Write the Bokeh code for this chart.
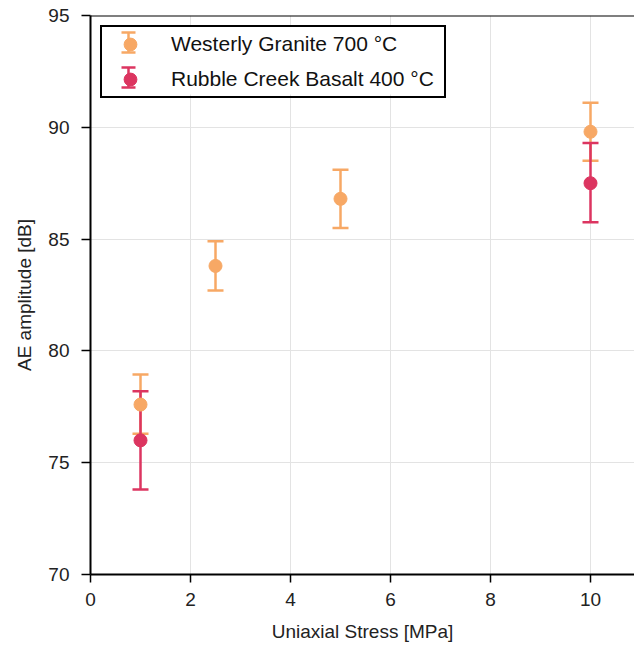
from bokeh.plotting import figure
from bokeh.models import (ColumnDataSource, Legend, LegendItem, Span, FixedTicker, Range1d,
                          BoxAnnotation)
from bokeh.embed import file_html
from bokeh.resources import INLINE

# ---- data ----
granite_x = [1, 2.5, 5, 10]
granite_y = [77.6, 83.8, 86.8, 89.8]
granite_lo = [76.3, 82.7, 85.5, 88.5]
granite_hi = [78.95, 84.9, 88.1, 91.1]

basalt_x = [1, 10]
basalt_y = [76.0, 87.5]
basalt_lo = [73.8, 85.75]
basalt_hi = [78.2, 89.3]

x_ticks = [0, 2, 4, 6, 8, 10]
y_ticks = [70, 75, 80, 85, 90, 95]

granite_label = "Westerly Granite 700 °C"
basalt_label = "Rubble Creek Basalt 400 °C"

GRANITE = "#f7a865"
BASALT = "#dc3560"
FONT = "Liberation Sans"

W, H = 634, 646
FRAME_LEFT, FRAME_TOP, FRAME_BOTTOM_MARGIN = 90, 15, 72
p = figure(width=W, height=H, output_backend="svg", toolbar_location=None,
           x_range=Range1d(0, 10.88), y_range=Range1d(70, 95),
           min_border_left=FRAME_LEFT, min_border_right=0, min_border_top=FRAME_TOP,
           min_border_bottom=FRAME_BOTTOM_MARGIN)
p.outline_line_color = None
p.background_fill_color = "white"
p.border_fill_color = "white"

for ax in (p.xaxis[0], p.yaxis[0]):
    ax.axis_line_width = 2
    ax.axis_line_color = "black"
    ax.major_tick_line_width = 1.5
    ax.major_tick_line_color = "black"
    ax.major_tick_in = 0
    ax.minor_tick_line_color = None
    ax.major_label_text_font = FONT
    ax.major_label_text_font_size = "19px"
    ax.major_label_text_color = "#222222"
    ax.axis_label_text_font = FONT
    ax.axis_label_text_font_size = "19px"
    ax.axis_label_text_font_style = "normal"
    ax.axis_label_text_color = "#222222"

p.xaxis.ticker = FixedTicker(ticks=x_ticks)
p.yaxis.ticker = FixedTicker(ticks=y_ticks)
p.xaxis.major_tick_out = 8
p.yaxis.major_tick_out = 9
p.xaxis.major_label_standoff = 10
p.xaxis.axis_label_standoff = 12
p.yaxis.major_label_standoff = 12
p.yaxis.axis_label_standoff = 10
p.xaxis.axis_label = "Uniaxial Stress [MPa]"
p.yaxis.axis_label = "AE amplitude [dB]"

p.xgrid.ticker = FixedTicker(ticks=x_ticks)
p.ygrid.ticker = FixedTicker(ticks=y_ticks)
p.grid.grid_line_color = "#e3e3e3"
p.grid.grid_line_width = 1

p.add_layout(Span(location=95, dimension="width", line_color="black", line_width=2))

gsrc = ColumnDataSource(dict(x=granite_x, y=granite_y, lo=granite_lo, hi=granite_hi))
bsrc = ColumnDataSource(dict(x=basalt_x, y=basalt_y, lo=basalt_lo, hi=basalt_hi))

def bars(src, color):
    p.segment(x0="x", y0="lo", x1="x", y1="hi", source=src, line_color=color, line_width=2.5)
    p.scatter(x="x", y="lo", source=src, marker="dash", size=16, line_color=color, line_width=2.5)
    p.scatter(x="x", y="hi", source=src, marker="dash", size=16, line_color=color, line_width=2.5)

bars(gsrc, GRANITE)
bars(bsrc, BASALT)
g_pts = p.scatter(x="x", y="y", source=gsrc, size=13, fill_color=GRANITE, line_color=GRANITE)
b_pts = p.scatter(x="x", y="y", source=bsrc, size=13, fill_color=BASALT, line_color=BASALT)

# ---- legend: layout parameters ----
LEG_MARGIN, LEG_PAD, GLYPH_W, GLYPH_H, LEG_SPACING = 10, 1, 54, 32, 3
LABEL_STANDOFF, LABEL_W = 14, 272
frame_h = H - FRAME_TOP - FRAME_BOTTOM_MARGIN  # frame height in px

# screen units: x from frame left, y upward from frame bottom
def sy(page_dy):  # page offset below frame top -> screen y
    return frame_h - page_dy

leg_left = LEG_MARGIN
leg_right = LEG_MARGIN + 2 * LEG_PAD + GLYPH_W + LABEL_STANDOFF + LABEL_W
leg_top = LEG_MARGIN
leg_bottom = LEG_MARGIN + 2 * LEG_PAD + 2 * GLYPH_H + LEG_SPACING

# opaque white legend background (legend itself is drawn transparent on top)
p.add_layout(BoxAnnotation(left=leg_left, right=leg_right, top=sy(leg_top), bottom=sy(leg_bottom),
                           left_units="screen", right_units="screen", top_units="screen",
                           bottom_units="screen", fill_color="white", fill_alpha=1,
                           line_color=None, level="annotation"))

# error-bar icons for the legend entries
icon_cx = LEG_MARGIN + LEG_PAD + GLYPH_W / 2
half_h, half_cap, lw = 10, 7, 2.5
for i, color in enumerate([GRANITE, BASALT]):
    cy = LEG_MARGIN + LEG_PAD + GLYPH_H / 2 + i * (GLYPH_H + LEG_SPACING)
    boxes = [(icon_cx - lw / 2, icon_cx + lw / 2, cy - half_h, cy + half_h),
             (icon_cx - half_cap, icon_cx + half_cap, cy - half_h - lw / 2, cy - half_h + lw / 2),
             (icon_cx - half_cap, icon_cx + half_cap, cy + half_h - lw / 2, cy + half_h + lw / 2)]
    for l, r, t, b in boxes:
        p.add_layout(BoxAnnotation(left=l, right=r, top=sy(t), bottom=sy(b),
                                   left_units="screen", right_units="screen",
                                   top_units="screen", bottom_units="screen",
                                   fill_color=color, fill_alpha=1, line_color=None,
                                   level="overlay"))

legend = Legend(items=[LegendItem(label=granite_label, renderers=[g_pts]),
                       LegendItem(label=basalt_label, renderers=[b_pts])],
                location="top_left", margin=LEG_MARGIN, padding=LEG_PAD, spacing=LEG_SPACING,
                glyph_width=GLYPH_W, glyph_height=GLYPH_H, label_standoff=LABEL_STANDOFF,
                label_width=LABEL_W,
                label_text_font=FONT, label_text_font_size="21px", label_text_color="#111111",
                border_line_color="black", border_line_width=2, border_line_alpha=1,
                background_fill_alpha=0)
p.add_layout(legend)

open("out.html", "w").write(file_html(p, INLINE))
